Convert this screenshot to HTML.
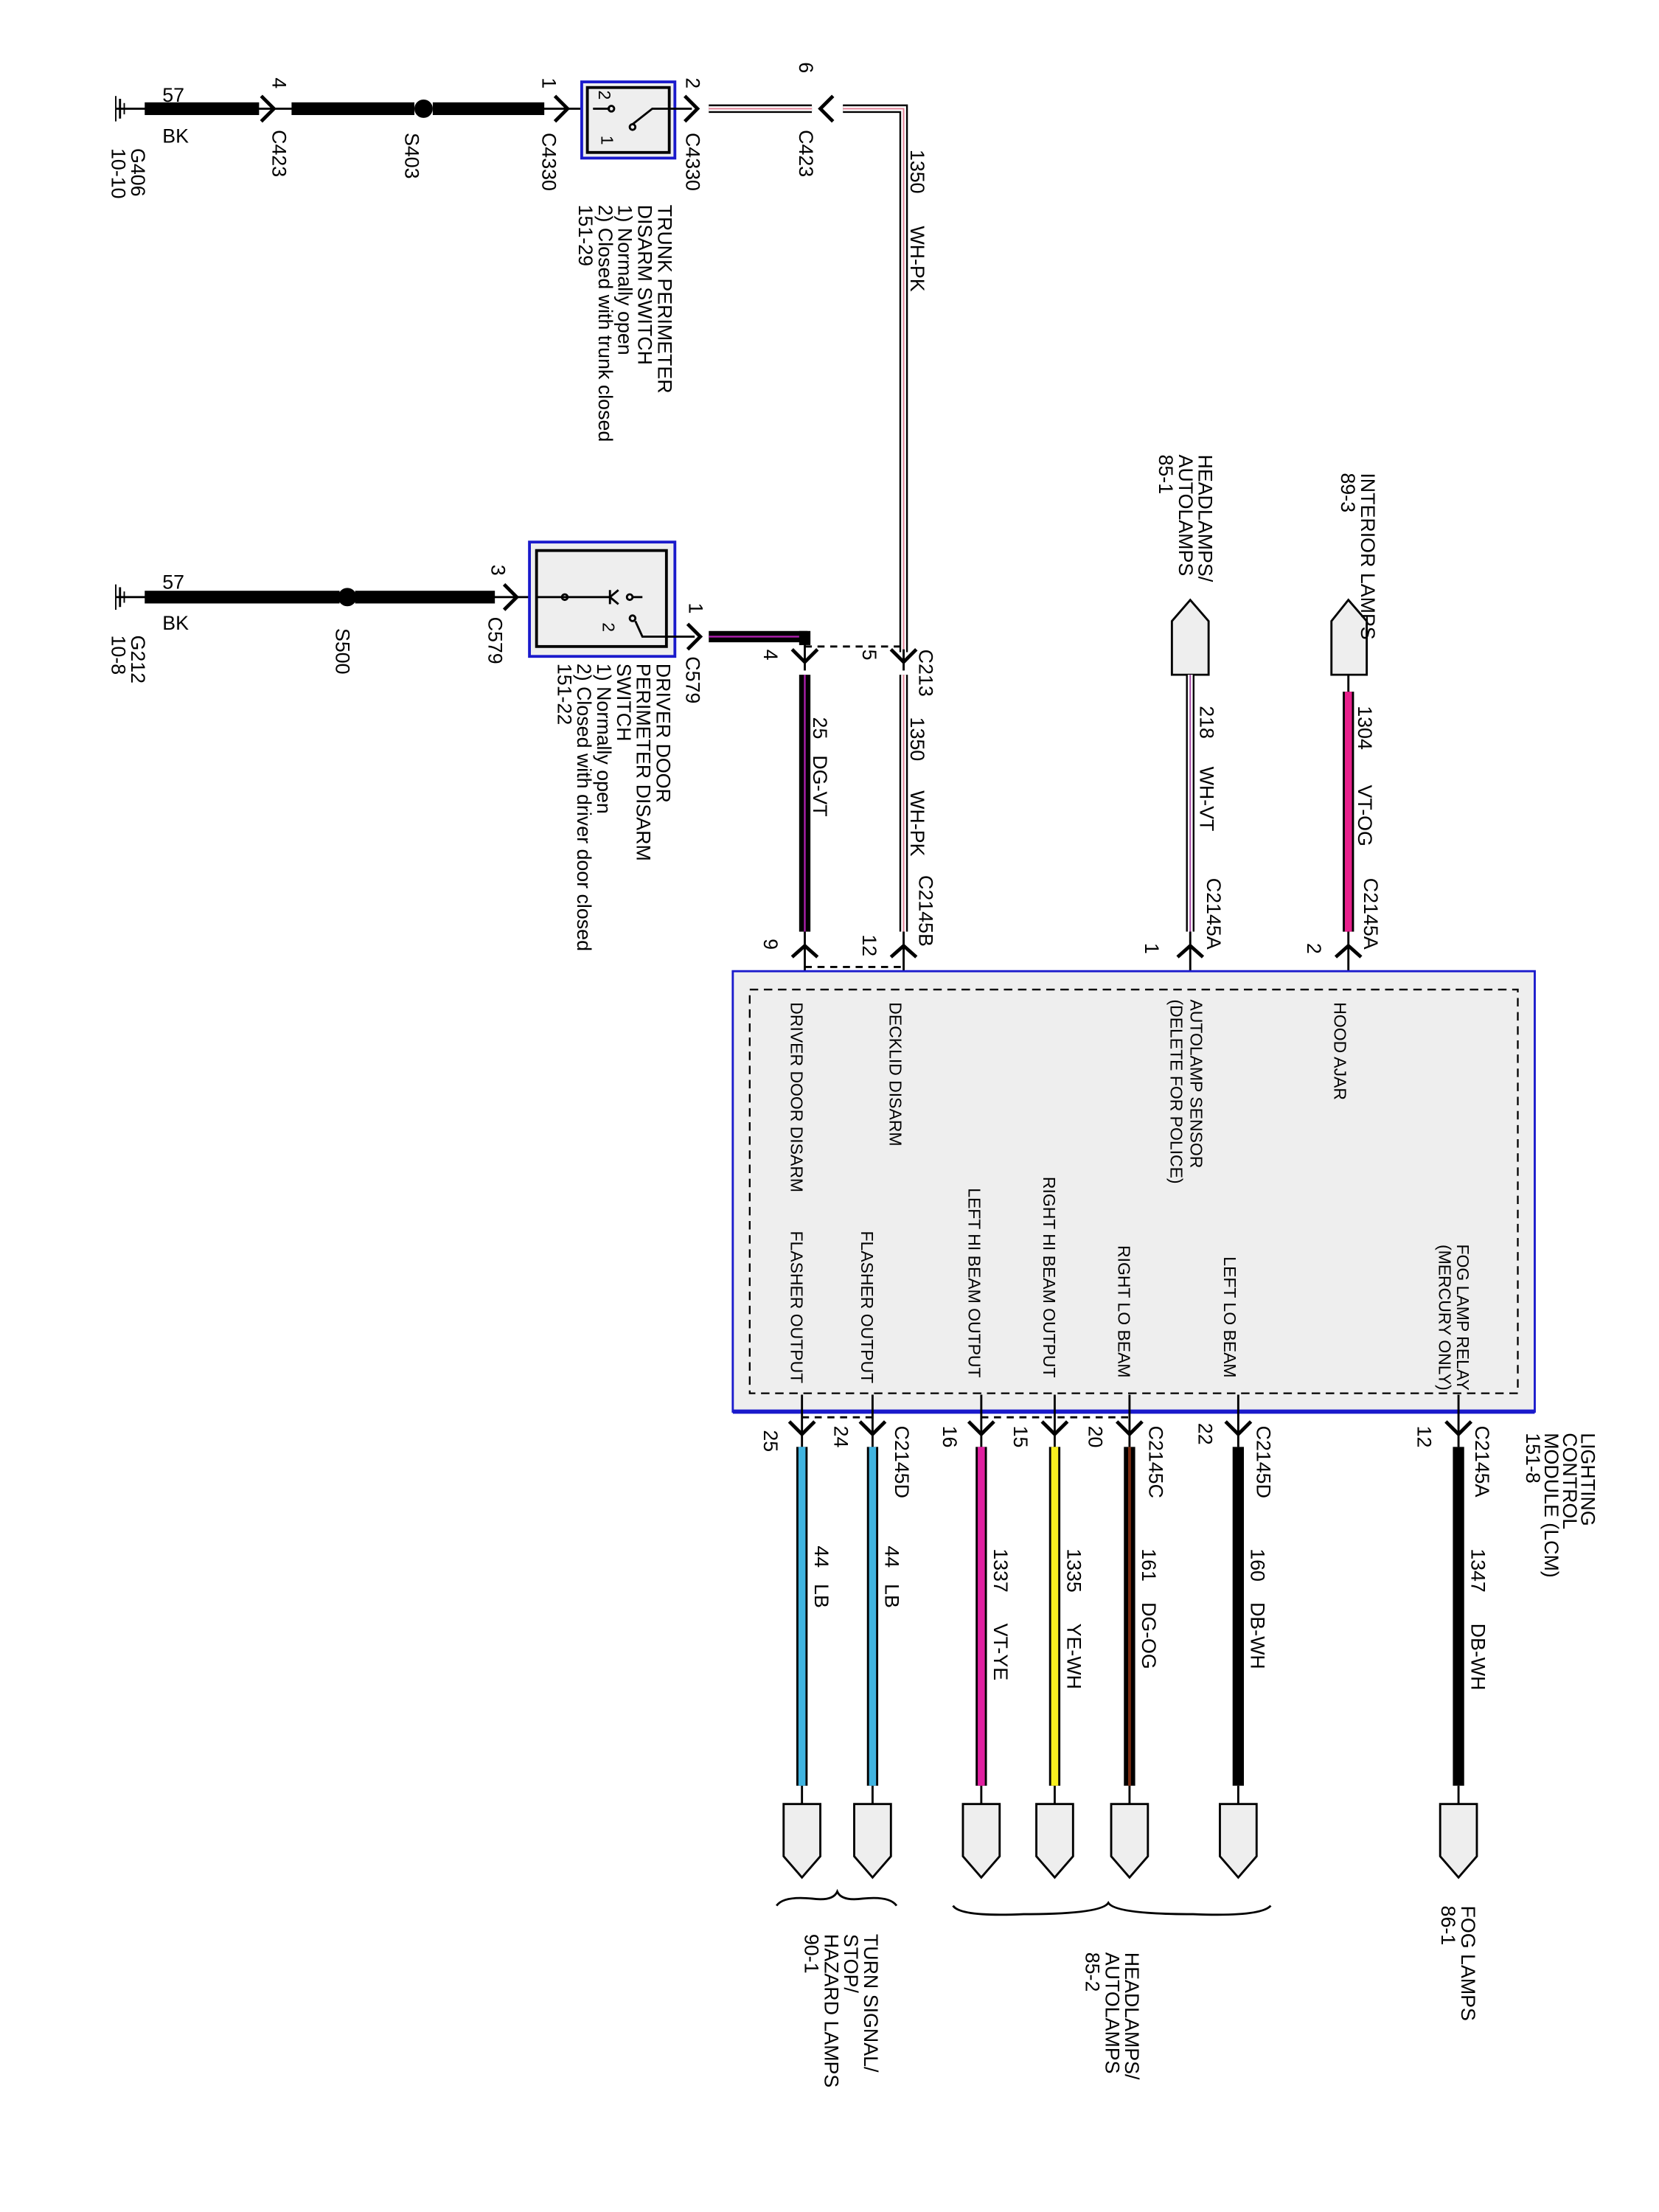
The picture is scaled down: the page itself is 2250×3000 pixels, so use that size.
<!DOCTYPE html>
<html><head><meta charset="utf-8"><style>
html,body{margin:0;padding:0;background:#fff;}
svg{display:block;}
text{font-family:"Liberation Sans",sans-serif;font-size:14px;fill:#000;}
.s{font-size:12px;}
</style></head><body>
<svg width="2250" height="3000" viewBox="0 0 1175 1567" preserveAspectRatio="none" xmlns="http://www.w3.org/2000/svg">
<defs>
<g id="chR"><path d="M-5,-9 L4,0 L-5,9" fill="none" stroke="#000" stroke-width="2.5"/></g>
<g id="chD"><path d="M-9,-5 L0,4 L9,-5" fill="none" stroke="#000" stroke-width="2.5"/></g>
</defs>
<g stroke="#000">
<line x1="85" y1="70" x2="85" y2="84" stroke-width="1.5"/><line x1="88" y1="73" x2="88" y2="81"/><line x1="82" y1="68" x2="82" y2="86" stroke-width="1"/>
<line x1="82" y1="77" x2="103" y2="77" stroke-width="1.5"/>
<rect x="103" y="73" width="80" height="8" fill="#000"/>
<line x1="183" y1="77" x2="207" y2="77" stroke-width="1.5"/>
<rect x="207" y="73" width="86" height="8" fill="#000"/>
<circle cx="300" cy="77" r="6" fill="#000"/>
<rect x="307" y="73" width="78" height="8" fill="#000"/>
<line x1="385" y1="77" x2="420" y2="77" stroke-width="1.5"/>
</g>
<use href="#chR" x="190" y="77"/><use href="#chR" x="398" y="77"/>
<rect x="412" y="58" width="66" height="54" fill="#eee" stroke="#1a1acc" stroke-width="2"/>
<rect x="416" y="62" width="58" height="46" fill="#eee" stroke="#000" stroke-width="2"/>
<g stroke="#000" fill="none" stroke-width="1.5">
<line x1="420" y1="77" x2="432" y2="77"/><circle cx="433" cy="77" r="2"/><circle cx="448" cy="90" r="2"/>
<path d="M448,88 L462,77 L490,77"/>
</g>
<text class="s" transform="translate(424,64) rotate(90)">2</text>
<text class="s" transform="translate(426,96) rotate(90)">1</text>
<use href="#chR" x="490" y="77"/>
<g fill="none">
<path d="M502,77 L575,77" stroke="#000" stroke-width="6"/><path d="M502,77 L575,77" stroke="#fff" stroke-width="3.5"/><path d="M502,77 L575,77" stroke="#e07c92" stroke-width="1"/>
<path d="M597,77 L640,77 L640,462" stroke="#000" stroke-width="6"/><path d="M597,77 L640,77 L640,462" stroke="#fff" stroke-width="3.5"/><path d="M597,77 L640,77 L640,462" stroke="#e07c92" stroke-width="1"/>
</g>
<path d="M590,68 L581,77 L590,86" fill="none" stroke="#000" stroke-width="2.5"/>
<text x="115" y="72">57</text>
<text x="115" y="101">BK</text>
<g>
<text transform="translate(93,105) rotate(90)">G406</text>
<text transform="translate(79,105) rotate(90)">10-10</text>
<text transform="translate(193,55) rotate(90)">4</text>
<text transform="translate(193,92) rotate(90)">C423</text>
<text transform="translate(287,94) rotate(90)">S403</text>
<text transform="translate(384,55) rotate(90)">1</text>
<text transform="translate(384,94) rotate(90)">C4330</text>
<text transform="translate(486,55) rotate(90)">2</text>
<text transform="translate(486,94) rotate(90)">C4330</text>
<text transform="translate(466,145) rotate(90)">TRUNK PERIMETER</text>
<text transform="translate(452,145) rotate(90)">DISARM SWITCH</text>
<text transform="translate(438,145) rotate(90)">1) Normally open</text>
<text transform="translate(424,145) rotate(90)">2) Closed with trunk closed</text>
<text transform="translate(410,145) rotate(90)">151-29</text>
<text transform="translate(566,44) rotate(90)">6</text>
<text transform="translate(566,92) rotate(90)">C423</text>
<text transform="translate(645,106) rotate(90)">1350</text>
<text transform="translate(645,160) rotate(90)">WH-PK</text>
</g>
<g stroke="#000">
<line x1="85" y1="416" x2="85" y2="430" stroke-width="1.5"/><line x1="88" y1="419" x2="88" y2="427"/><line x1="82" y1="414" x2="82" y2="432" stroke-width="1"/>
<line x1="82" y1="423" x2="103" y2="423" stroke-width="1.5"/>
<rect x="103" y="419" width="137" height="8" fill="#000"/>
<circle cx="246" cy="423" r="6" fill="#000"/>
<rect x="252" y="419" width="98" height="8" fill="#000"/>
<line x1="350" y1="423" x2="398" y2="423" stroke-width="1.5"/>
</g>
<use href="#chR" x="362" y="423"/>
<rect x="375" y="384" width="103" height="81" fill="#eee" stroke="#1a1acc" stroke-width="2"/>
<rect x="380" y="390" width="92" height="68" fill="#eee" stroke="#000" stroke-width="2"/>
<g stroke="#000" fill="none" stroke-width="1.5">
<line x1="380" y1="423" x2="432" y2="423"/><circle cx="400" cy="423" r="2"/>
<path d="M432,418 L432,428 M438,418 L432,423 L438,428"/><circle cx="446" cy="423" r="2"/><line x1="448" y1="423" x2="455" y2="423"/>
<circle cx="448" cy="438" r="2"/><path d="M450,440 L455,451 L492,451"/>
</g>
<text class="s" transform="translate(427,441) rotate(90)">2</text>
<use href="#chR" x="492" y="451"/>
<rect x="502" y="447" width="70" height="8" fill="#000"/>
<line x1="502" y1="451" x2="570" y2="451" stroke="#b020b0" stroke-width="1.2"/>
<rect x="566" y="447" width="8" height="10" fill="#000"/>
<path d="M570,458 L640,458" stroke="#000" stroke-dasharray="5,4" stroke-width="1.5"/>
<use href="#chD" x="570" y="465"/><use href="#chD" x="640" y="465"/>
<line x1="570" y1="455" x2="570" y2="475" stroke="#000" stroke-width="1.5"/>
<line x1="640" y1="460" x2="640" y2="475" stroke="#000" stroke-width="1.5"/>
<rect x="566" y="478" width="8" height="182" fill="#000"/>
<line x1="570" y1="478" x2="570" y2="660" stroke="#b020b0" stroke-width="1.2"/>
<g fill="none">
<path d="M640,478 L640,660" stroke="#000" stroke-width="6"/><path d="M640,478 L640,660" stroke="#fff" stroke-width="3.5"/><path d="M640,478 L640,660" stroke="#e07c92" stroke-width="1"/>
</g>
<path d="M561,678 L570,670 L579,678 M631,678 L640,670 L649,678" fill="none" stroke="#000" stroke-width="2.5"/>
<line x1="570" y1="660" x2="570" y2="700" stroke="#000" stroke-width="1.5"/>
<line x1="640" y1="660" x2="640" y2="700" stroke="#000" stroke-width="1.5"/>
<path d="M570,685 L640,685" stroke="#000" stroke-dasharray="5,4" stroke-width="1.5"/>
<text x="115" y="417">57</text>
<text x="115" y="446">BK</text>
<g>
<text transform="translate(93,450) rotate(90)">G212</text>
<text transform="translate(79,450) rotate(90)">10-8</text>
<text transform="translate(238,445) rotate(90)">S500</text>
<text transform="translate(348,400) rotate(90)">3</text>
<text transform="translate(346,437) rotate(90)">C579</text>
<text transform="translate(488,427) rotate(90)">1</text>
<text transform="translate(486,465) rotate(90)">C579</text>
<text transform="translate(465,470) rotate(90)">DRIVER DOOR</text>
<text transform="translate(451,470) rotate(90)">PERIMETER DISARM</text>
<text transform="translate(437,470) rotate(90)">SWITCH</text>
<text transform="translate(423,470) rotate(90)">1) Normally open</text>
<text transform="translate(409,470) rotate(90)">2) Closed with driver door closed</text>
<text transform="translate(395,470) rotate(90)">151-22</text>
<text transform="translate(541,460) rotate(90)">4</text>
<text transform="translate(611,460) rotate(90)">5</text>
<text transform="translate(651,460) rotate(90)">C213</text>
<text transform="translate(576,508) rotate(90)">25</text>
<text transform="translate(576,535) rotate(90)">DG-VT</text>
<text transform="translate(645,508) rotate(90)">1350</text>
<text transform="translate(645,560) rotate(90)">WH-PK</text>
<text transform="translate(651,620) rotate(90)">C2145B</text>
<text transform="translate(541,665) rotate(90)">9</text>
<text transform="translate(611,662) rotate(90)">12</text>
</g>
<path d="M830,478 L830,440 L843,425 L856,440 L856,478 Z" fill="#eee" stroke="#000" stroke-width="1.5"/>
<path d="M943,478 L943,440 L955,425 L968,440 L968,478 Z" fill="#eee" stroke="#000" stroke-width="1.5"/>
<g fill="none">
<path d="M843,478 L843,660" stroke="#000" stroke-width="6"/><path d="M843,478 L843,660" stroke="#fff" stroke-width="3.5"/><path d="M843,478 L843,660" stroke="#a040a0" stroke-width="1"/>
</g>
<rect x="951" y="490" width="8" height="170" fill="#000"/>
<rect x="952.5" y="490" width="5" height="170" fill="#e8208c"/>
<line x1="955" y1="478" x2="955" y2="490" stroke="#000" stroke-width="1.5"/>
<path d="M834,678 L843,670 L852,678 M946,678 L955,670 L964,678" fill="none" stroke="#000" stroke-width="2.5"/>
<line x1="843" y1="660" x2="843" y2="700" stroke="#000" stroke-width="1.5"/>
<line x1="955" y1="660" x2="955" y2="700" stroke="#000" stroke-width="1.5"/>
<g>
<text transform="translate(849,322) rotate(90)">HEADLAMPS/</text>
<text transform="translate(835,322) rotate(90)">AUTOLAMPS</text>
<text transform="translate(821,322) rotate(90)">85-1</text>
<text transform="translate(964,335) rotate(90)">INTERIOR LAMPS</text>
<text transform="translate(950,335) rotate(90)">89-3</text>
<text transform="translate(850,500) rotate(90)">218</text>
<text transform="translate(850,543) rotate(90)">WH-VT</text>
<text transform="translate(855,622) rotate(90)">C2145A</text>
<text transform="translate(811,668) rotate(90)">1</text>
<text transform="translate(962,500) rotate(90)">1304</text>
<text transform="translate(962,556) rotate(90)">VT-OG</text>
<text transform="translate(966,622) rotate(90)">C2145A</text>
<text transform="translate(926,668) rotate(90)">2</text>
</g>
<rect x="519" y="688" width="568" height="312" fill="#eee" stroke="#1a1acc" stroke-width="1.5"/>
<line x1="519" y1="1000" x2="1087" y2="1000" stroke="#1a1acc" stroke-width="3"/>
<rect x="531" y="701" width="544" height="286" fill="none" stroke="#000" stroke-width="1.2" stroke-dasharray="6,4"/>
<g class="s">
<text class="s" transform="translate(560,710) rotate(90)">DRIVER DOOR DISARM</text>
<text class="s" transform="translate(630,710) rotate(90)">DECKLID DISARM</text>
<text class="s" transform="translate(843,708) rotate(90)">AUTOLAMP SENSOR</text>
<text class="s" transform="translate(829,708) rotate(90)">(DELETE FOR POLICE)</text>
<text class="s" transform="translate(945,710) rotate(90)">HOOD AJAR</text>
<text class="s" text-anchor="end" transform="translate(560,980) rotate(90)">FLASHER OUTPUT</text>
<text class="s" text-anchor="end" transform="translate(610,980) rotate(90)">FLASHER OUTPUT</text>
<text class="s" text-anchor="end" transform="translate(686,976) rotate(90)">LEFT HI BEAM OUTPUT</text>
<text class="s" text-anchor="end" transform="translate(739,976) rotate(90)">RIGHT HI BEAM OUTPUT</text>
<text class="s" text-anchor="end" transform="translate(792,976) rotate(90)">RIGHT LO BEAM</text>
<text class="s" text-anchor="end" transform="translate(867,976) rotate(90)">LEFT LO BEAM</text>
<text class="s" text-anchor="end" transform="translate(1032,985) rotate(90)">FOG LAMP RELAY</text>
<text class="s" text-anchor="end" transform="translate(1019,985) rotate(90)">(MERCURY ONLY)</text>
</g>
<path d="M568,1004 L618,1004 M695,1004 L800,1004" stroke="#000" stroke-dasharray="5,4" stroke-width="1.5"/>
<g stroke="#000" stroke-width="1.5">
<line x1="568" y1="988" x2="568" y2="1025"/><line x1="618" y1="988" x2="618" y2="1025"/><line x1="695" y1="988" x2="695" y2="1025"/><line x1="747" y1="988" x2="747" y2="1025"/><line x1="800" y1="988" x2="800" y2="1025"/><line x1="877" y1="988" x2="877" y2="1025"/><line x1="1033" y1="988" x2="1033" y2="1025"/>
<line x1="568" y1="1265" x2="568" y2="1280"/><line x1="618" y1="1265" x2="618" y2="1280"/><line x1="695" y1="1265" x2="695" y2="1280"/><line x1="747" y1="1265" x2="747" y2="1280"/><line x1="800" y1="1265" x2="800" y2="1280"/><line x1="877" y1="1265" x2="877" y2="1280"/><line x1="1033" y1="1265" x2="1033" y2="1280"/>
</g>
<use href="#chD" x="568" y="1012"/><use href="#chD" x="618" y="1012"/><use href="#chD" x="695" y="1012"/><use href="#chD" x="747" y="1012"/><use href="#chD" x="800" y="1012"/><use href="#chD" x="877" y="1012"/><use href="#chD" x="1033" y="1012"/>
<g>
<rect x="564" y="1025" width="8" height="240" fill="#000"/><rect x="565.5" y="1025" width="5" height="240" fill="#40b4e0"/>
<rect x="614" y="1025" width="8" height="240" fill="#000"/><rect x="615.5" y="1025" width="5" height="240" fill="#40b4e0"/>
<rect x="691" y="1025" width="8" height="240" fill="#000"/><rect x="692.5" y="1025" width="5" height="240" fill="#e020a0"/>
<rect x="743" y="1025" width="8" height="240" fill="#000"/><rect x="744.5" y="1025" width="5" height="240" fill="#f8f020"/>
<rect x="796" y="1025" width="8" height="240" fill="#000"/><rect x="799" y="1025" width="2" height="240" fill="#7a2a10"/>
<rect x="873" y="1025" width="8" height="240" fill="#000"/>
<rect x="1029" y="1025" width="8" height="240" fill="#000"/>
</g>
<g fill="#eee" stroke="#000" stroke-width="1.5">
<path d="M555,1278 L581,1278 L581,1315 L568,1330 L555,1315 Z"/>
<path d="M605,1278 L631,1278 L631,1315 L618,1330 L605,1315 Z"/>
<path d="M682,1278 L708,1278 L708,1315 L695,1330 L682,1315 Z"/>
<path d="M734,1278 L760,1278 L760,1315 L747,1330 L734,1315 Z"/>
<path d="M787,1278 L813,1278 L813,1315 L800,1330 L787,1315 Z"/>
<path d="M864,1278 L890,1278 L890,1315 L877,1330 L864,1315 Z"/>
<path d="M1020,1278 L1046,1278 L1046,1315 L1033,1330 L1020,1315 Z"/>
</g>
<path d="M550,1350 Q555,1343 575,1345 Q590,1347 593,1340 Q596,1347 611,1345 Q630,1343 635,1350" fill="none" stroke="#000" stroke-width="1.5"/>
<path d="M675,1350 Q680,1358 725,1356 Q780,1356 785,1348 Q790,1356 845,1356 Q893,1358 900,1350" fill="none" stroke="#000" stroke-width="1.5"/>
<g>
<text transform="translate(541,1013) rotate(90)">25</text>
<text transform="translate(591,1010) rotate(90)">24</text>
<text transform="translate(634,1010) rotate(90)">C2145D</text>
<text transform="translate(668,1010) rotate(90)">16</text>
<text transform="translate(718,1010) rotate(90)">15</text>
<text transform="translate(771,1010) rotate(90)">20</text>
<text transform="translate(814,1010) rotate(90)">C2145C</text>
<text transform="translate(849,1008) rotate(90)">22</text>
<text transform="translate(890,1010) rotate(90)">C2145D</text>
<text transform="translate(1004,1010) rotate(90)">12</text>
<text transform="translate(1045,1010) rotate(90)">C2145A</text>
<text transform="translate(1120,1015) rotate(90)">LIGHTING</text>
<text transform="translate(1107,1015) rotate(90)">CONTROL</text>
<text transform="translate(1094,1015) rotate(90)">MODULE (LCM)</text>
<text transform="translate(1081,1015) rotate(90)">151-8</text>
<text transform="translate(577,1095) rotate(90)">44</text><text transform="translate(577,1122) rotate(90)">LB</text>
<text transform="translate(627,1095) rotate(90)">44</text><text transform="translate(627,1122) rotate(90)">LB</text>
<text transform="translate(704,1097) rotate(90)">1337</text><text transform="translate(704,1150) rotate(90)">VT-YE</text>
<text transform="translate(756,1097) rotate(90)">1335</text><text transform="translate(756,1150) rotate(90)">YE-WH</text>
<text transform="translate(809,1097) rotate(90)">161</text><text transform="translate(809,1135) rotate(90)">DG-OG</text>
<text transform="translate(886,1097) rotate(90)">160</text><text transform="translate(886,1135) rotate(90)">DB-WH</text>
<text transform="translate(1042,1097) rotate(90)">1347</text><text transform="translate(1042,1150) rotate(90)">DB-WH</text>
<text transform="translate(612,1370) rotate(90)">TURN SIGNAL/</text>
<text transform="translate(598,1370) rotate(90)">STOP/</text>
<text transform="translate(584,1370) rotate(90)">HAZARD LAMPS</text>
<text transform="translate(570,1370) rotate(90)">90-1</text>
<text transform="translate(797,1383) rotate(90)">HEADLAMPS/</text>
<text transform="translate(783,1383) rotate(90)">AUTOLAMPS</text>
<text transform="translate(769,1383) rotate(90)">85-2</text>
<text transform="translate(1035,1350) rotate(90)">FOG LAMPS</text>
<text transform="translate(1021,1350) rotate(90)">86-1</text>
</g>
</svg>
</body></html>
